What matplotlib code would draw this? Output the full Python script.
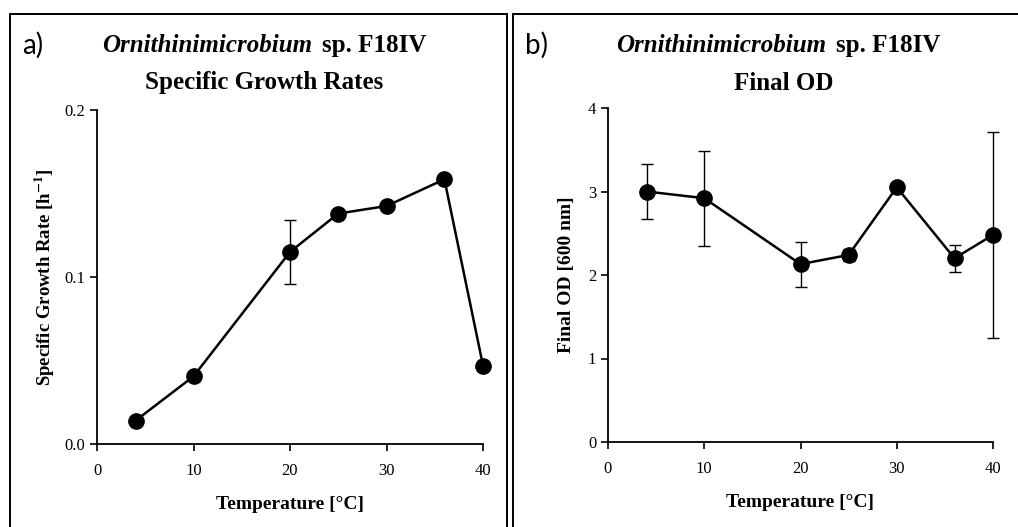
import numpy as np
import matplotlib.pyplot as plt
from matplotlib.patches import Rectangle

plt.rcParams['font.family'] = 'Liberation Serif'
plt.rcParams['mathtext.fontset'] = 'stix'

temps = [4, 10, 20, 25, 30, 36, 40]

# specific growth rate [1/h]
mu = [0.014, 0.0405, 0.115, 0.138, 0.1425, 0.1585, 0.047]
mu_err = [0.0, 0.0, 0.019, 0.0, 0.0, 0.0, 0.003]

# final OD at 600 nm
od = [3.0, 2.92, 2.13, 2.24, 3.05, 2.20, 2.48]
od_err = [0.33, 0.57, 0.27, 0.07, 0.05, 0.16, 1.23]

W, H = 1018, 527
fig = plt.figure(figsize=(W / 100, H / 100), dpi=100)

# panel frames
for x0, x1 in [(10, 507), (513, 1030)]:
    fig.patches.append(Rectangle((x0 / W, -0.1), (x1 - x0) / W, 1.1 - 14 / H,
                                 transform=fig.transFigure, fill=False,
                                 lw=1.4, ec='black'))


def style_axes(ax, yticks, yfmt):
    ax.spines['top'].set_visible(False)
    ax.spines['right'].set_visible(False)
    ax.spines['left'].set_linewidth(1.3)
    ax.spines['bottom'].set_linewidth(1.3)
    ax.set_xlim(0, 40)
    ax.set_xticks([0, 10, 20, 30, 40])
    ax.set_yticks(yticks)
    ax.set_yticklabels([yfmt.format(v) for v in yticks])
    ax.tick_params(direction='out', length=5, width=1.2, labelsize=12)
    ax.tick_params(axis='x', pad=9)
    ax.set_xlabel('Temperature [°C]', fontsize=14, fontweight='bold', labelpad=12)


def title(fig, xs, first, second):
    y1, y2 = 1 - 45 / H, 1 - 83 / H
    fig.text(xs / W, y1, 'Ornithinimicrobium', fontsize=18, fontweight='bold',
             fontstyle='italic', ha='right', va='center')
    fig.text((xs + 10) / W, y1, 'sp. F18IV', fontsize=18, fontweight='bold',
             ha='left', va='center')
    fig.text(first / W, y2, second, fontsize=18, fontweight='bold',
             ha='center', va='center')


def plot_series(ax, y, err):
    lines = ax.errorbar(temps, y, yerr=err, color='black', lw=1.8, marker='o',
                        ms=11, elinewidth=1.0, capsize=4, capthick=1.0)
    for artist in lines.get_children():
        artist.set_clip_on(False)


ax1 = fig.add_axes([97 / W, 1 - 444 / H, (483 - 97) / W, (444 - 110) / H])
plot_series(ax1, mu, mu_err)
ax1.set_ylim(0, 0.2)
style_axes(ax1, [0.0, 0.1, 0.2], '{:.1f}')
ax1.set_ylabel('Specific Growth Rate [h$^{\\mathbf{-1}}$]', fontsize=13.5,
               fontweight='bold', labelpad=5)
title(fig, 312, 264, 'Specific Growth Rates')
fig.text(22 / W, 1 - 45 / H, 'a)', family='Lato', fontsize=20, ha='left', va='center')

ax2 = fig.add_axes([608 / W, 1 - 442 / H, (993 - 608) / W, (442 - 108) / H])
plot_series(ax2, od, od_err)
ax2.set_ylim(0, 4)
style_axes(ax2, [0, 1, 2, 3, 4], '{:d}')
ax2.set_ylabel('Final OD [600 nm]', fontsize=14, fontweight='bold', labelpad=9)
title(fig, 826, 784, 'Final OD')
fig.text(525 / W, 1 - 45 / H, 'b)', family='Lato', fontsize=20, ha='left', va='center')

fig.savefig('out.png', dpi=100)
